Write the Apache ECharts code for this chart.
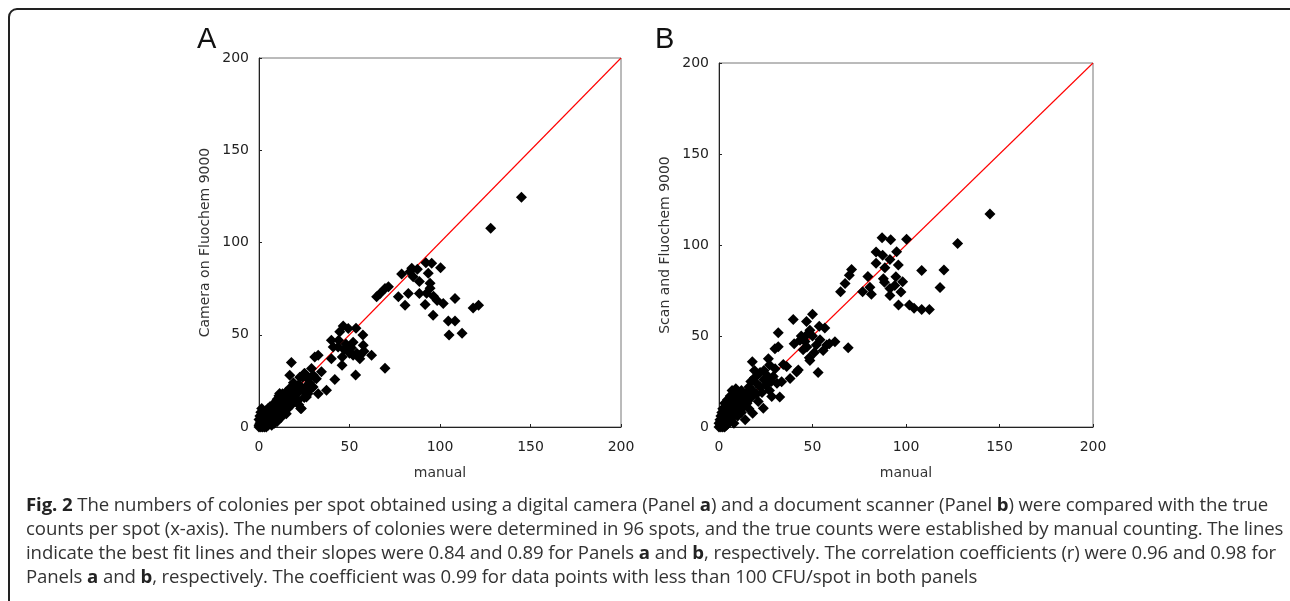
<!DOCTYPE html>
<html>
<head>
<meta charset="utf-8">
<title>Fig. 2</title>
<script src="https://cdn.jsdelivr.net/npm/echarts@6/dist/echarts.min.js"></script>
<style>
  html, body { margin: 0; padding: 0; background: #fff; }
  #wrap { position: relative; width: 1290px; height: 601px; overflow: hidden; }
  #frame { position: absolute; left: 8px; top: 8px; width: 1290px; height: 620px;
    border: 2px solid #222; border-radius: 9px; box-sizing: border-box; }
  #chart { position: absolute; left: 0; top: 0; width: 1290px; height: 601px; }
  #caption { position: absolute; left: 26px; top: 492px; width: 1262px;
    font-family: "Open Sans", sans-serif; font-size: 18.6px; line-height: 24px;
    color: #333; white-space: nowrap; letter-spacing: -0.1px; }
  #caption b { color: #222; }
</style>
</head>
<body>
<div id="wrap">
  <div id="frame"></div>
  <div id="chart"></div>
  <div id="caption">
    <b>Fig. 2</b> The numbers of colonies per spot obtained using a digital camera (Panel <b>a</b>) and a document scanner (Panel <b>b</b>) were compared with the true<br>
    counts per spot (x-axis). The numbers of colonies were determined in 96 spots, and the true counts were established by manual counting. The lines<br>
    indicate the best fit lines and their slopes were 0.84 and 0.89 for Panels <b>a</b> and <b>b</b>, respectively. The correlation coefficients (r) were 0.96 and 0.98 for<br>
    Panels <b>a</b> and <b>b</b>, respectively. The coefficient was 0.99 for data points with less than 100 CFU/spot in both panels
  </div>
</div>
<script>
// axis ticks (both panels)
var tickValues = [0, 50, 100, 150, 200];
// identity line drawn in red
var diagLine = [[0, 0], [200, 200]];

// panel A : manual count vs camera on Fluochem 9000
var panelA = [
  [145,124.5],[128,107.7],[121.3,66],[118.3,64.5],[108.3,69.7],[112.2,50.8],[105,49.8],[104.6,57.5],[108.3,57.5],
  [100.3,86.3],[96.2,60.6],[101.8,67],[98.4,68.5],[96.4,70.8],[94.5,75.2],[94.5,77.9],[93.5,83.3],[92.2,89],
  [95.4,88.7],[91.8,66.4],[92.6,72.5],[88.6,72.3],[88.6,78.8],[87.5,85.5],[84.4,86],[83.4,84.2],[85.2,81.4],
  [78.8,82.9],[82.5,72.4],[80.7,66],[77,70.6],[71.5,76],[69.6,75.1],[66.9,72.4],[65,70.6],[69.6,31.9],
  [57.4,49.9],[62.2,38.9],[57.6,44.3],[53.4,28.2],[55.7,37],[52,38.9],[49.3,53.4],[46.5,54.7],[53.6,53.5],
  [44.6,51.6],[40,47],[41,43.4],[43.7,43.4],[47,42],[50,40],[54,40],[48,45],[52,46],[46,38],[40,37],
  [37.3,19.9],[41.9,25.7],[45.9,33.5],[34.5,29.9],[30.8,38],[32.7,38.9],[17.9,34.9],[44,47],[51,43],[58,41],[56,39],
  [0,0],[0,1],[0,4],[0.5,2],[0.5,6],[1,0],[1,1],[1,3],[1,8],[1.5,0.5],[1.5,4],[1.5,10],[2,0],[2,2],[2,5],[2,7],
  [2.5,1],[2.5,3],[3,0],[3,2],[3,4],[3,6],[3.5,1],[3.5,8],[4,0],[4,3],[4,5],[4,9],[4.5,2],[4.5,6],[5,1],[5,4],
  [5,7],[5,10],[5.5,3],[6,2],[6,5],[6,8],[6,11],[6.5,4],[7,1],[7,6],[7,9],[7.5,3],[7.5,12],[8,5],[8,7],[8,10],
  [8.5,2],[9,8],[9,13],[9.5,5],[10,3],[10,10],[10,15],[11,7],[11,12],[11,17],[12,5],[12,9],[12,14],[13,11],
  [13,18],[14,8],[14,15],[15,12],[15,19],[16,10],[16,17],[17,14],[17,21],[18,12],[18,19],[19,16],[19,24],
  [20,14],[20,21],[21,18],[22,23],[22,12],[23,10],[24,20],[24,27],[25,16],[25,29],[26,22],[27,18],[27,26],
  [28,24],[29,21],[29,31.7],[30,28],[31.7,26.2],[32.7,18],[29.9,21.7],[26.2,16.3],[19.7,21.7],[21.6,14.5],
  [11.4,18.1],[13.3,12.7],[15.1,7.2],[9.6,10.9],[17,28],[22.5,27],[25.3,29],[23.4,10]
];

// panel B : manual count vs scan and Fluochem 9000
var panelB = [
  [144.9,117],[127.6,100.8],[120.3,86.2],[118.2,76.7],[108.4,86],[112.5,64.5],[108.4,64.5],[104.3,65.2],[101.8,67],
  [96,67],[100.3,103.1],[91.8,102.9],[87.2,104],[95,96.3],[84,96.2],[87.5,94.4],[91.4,92],[84,90],[95.9,89],
  [88.7,87.5],[87.9,81.5],[88.5,79.5],[94.6,82.6],[98.2,79.8],[94,77.8],[97.3,74.2],[91.4,76.1],[91.4,72.2],
  [81.5,73],[80.7,76.8],[79.6,82.7],[76.8,74.3],[70.9,86.5],[69.7,83.4],[67.4,78.8],[65,74.3],
  [38,26.7],[41.5,30.2],[42.4,31.3],[39.7,59],[40.2,45.8],[43.3,47.6],[45,42.5],[48.6,36.6],[53,29.9],[48.3,38],
  [46.8,58],[48.6,53.1],[50,61.9],[53.6,55.3],[56.6,54.4],[55.7,42.1],[59,45.8],[62,46.9],[69.1,43.5],[44,50],
  [46,47],[50,50],[52,45],[47,44],[51,41],[54,48],[57.6,45],[46.9,50.5],
  [0,0],[0,2],[0.5,4],[1,0],[1,1],[1,3],[1,6],[1.5,2],[1.5,8],[2,0],[2,4],[2,10],[2.5,1],[2.5,6],[3,0],[3,3],
  [3,8],[3,13],[3.5,2],[3.5,5],[4,1],[4,7],[4,11],[4.5,4],[4.5,15],[5,2],[5,9],[5,13],[5.5,6],[6,3],[6,11],
  [6,17],[6.5,8],[7,5],[7,14],[7,20],[7.5,10],[8,2],[8,7],[8,12],[8,18],[9,9],[9,15],[9,21],[10,6],[10,12],
  [10,17],[11,10],[11,19],[12,8],[12,14],[12,20],[13,11],[13,17],[14,4],[14,15],[15,13],[15,19],[16,10],
  [16,22],[17,16],[17,25],[18,7.5],[18,20],[19,27],[20,18],[20,24],[21,14],[21,29],[22,22],[23,19],[23.7,10.3],
  [24,26],[24,31],[25,23],[26,28],[27,20],[27,34],[28,25],[28.2,16.7],[29,27.7],[29.9,43],[30,32],[31,24],
  [31.7,44.1],[31.7,51.8],[32.5,16.5],[33.5,24.9],[34.4,34.4],[36.2,33.2],[17.8,35.9],[26.4,37.5],[22,30],[19,31]
];

var chart = echarts.init(document.getElementById('chart'));

function makeX(idx) {
  return {
    gridIndex: idx, type: 'value', min: 0, max: 200, interval: 50,
    name: 'manual', nameLocation: 'middle', nameGap: 39,
    nameTextStyle: { fontFamily: 'DejaVu Sans', fontSize: 14, color: '#333', letterSpacing: 1 },
    axisLine: { show: true, lineStyle: { color: '#222', width: 1 } },
    axisTick: { show: true, inside: true, length: 3, lineStyle: { color: '#222' } },
    axisLabel: { fontFamily: 'DejaVu Sans', fontSize: 14, color: '#222', margin: 13,
      formatter: function (v) { return tickValues.indexOf(v) >= 0 ? String(v) : ''; } },
    splitLine: { show: false }
  };
}
function makeY(idx, title) {
  return {
    gridIndex: idx, type: 'value', min: 0, max: 200, interval: 50,
    name: title, nameLocation: 'middle', nameGap: 47,
    nameTextStyle: { fontFamily: 'DejaVu Sans', fontSize: 14, color: '#333' },
    axisLine: { show: true, lineStyle: { color: '#222', width: 1 } },
    axisTick: { show: true, inside: true, length: 3, lineStyle: { color: '#222' } },
    axisLabel: { fontFamily: 'DejaVu Sans', fontSize: 14, color: '#222', margin: 10 },
    splitLine: { show: false }
  };
}

var option = {
  animation: false,
  backgroundColor: 'transparent',
  grid: [
    { left: 259, top: 58, width: 362, height: 369, show: true, borderColor: '#777', borderWidth: 1 },
    { left: 719, top: 63, width: 374, height: 364, show: true, borderColor: '#777', borderWidth: 1 }
  ],
  xAxis: [makeX(0), makeX(1)],
  yAxis: [makeY(0, 'Camera on Fluochem 9000'), makeY(1, 'Scan and Fluochem 9000')],
  graphic: [
    { type: 'text', left: 197, top: 25, style: { text: 'A', fontFamily: 'Liberation Sans', fontSize: 29, fill: '#111' } },
    { type: 'text', left: 655, top: 25, style: { text: 'B', fontFamily: 'Liberation Sans', fontSize: 29, fill: '#111' } }
  ],
  series: [
    { type: 'line', xAxisIndex: 0, yAxisIndex: 0, data: diagLine, symbol: 'none', z: 1,
      lineStyle: { color: '#ff0000', width: 1.1 } },
    { type: 'scatter', xAxisIndex: 0, yAxisIndex: 0, data: panelA, symbol: 'diamond', symbolSize: 11, z: 2,
      itemStyle: { color: '#000', opacity: 1 } },
    { type: 'line', xAxisIndex: 1, yAxisIndex: 1, data: diagLine, symbol: 'none', z: 1,
      lineStyle: { color: '#ff0000', width: 1.1 } },
    { type: 'scatter', xAxisIndex: 1, yAxisIndex: 1, data: panelB, symbol: 'diamond', symbolSize: 11, z: 2,
      itemStyle: { color: '#000', opacity: 1 } }
  ]
};
chart.setOption(option);
</script>
</body>
</html>
